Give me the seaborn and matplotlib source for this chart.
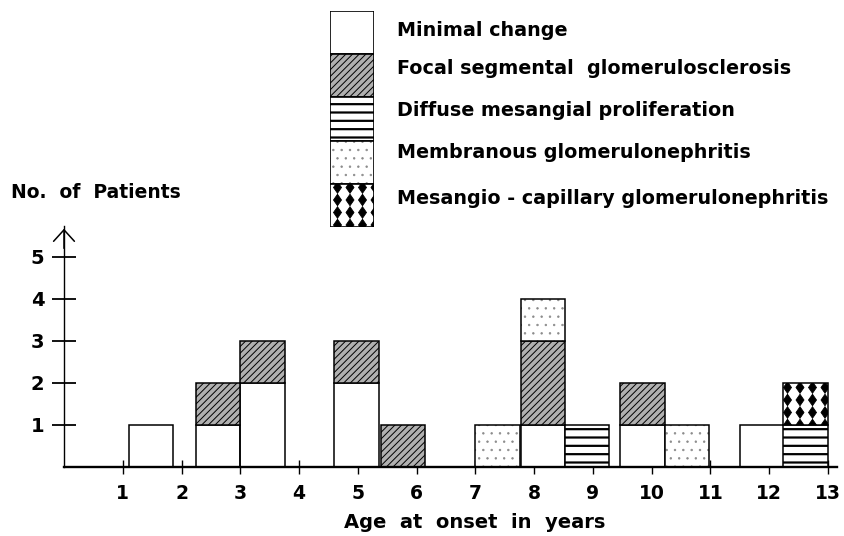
import numpy as np
import matplotlib
matplotlib.use("Agg")
import matplotlib.pyplot as plt
import matplotlib.hatch as mhatch
from matplotlib.path import Path
import seaborn as sns

# ---------------- data ----------------
age_left = [1.1, 2.24, 3.0, 4.6, 5.39, 7.0, 7.77, 8.52, 9.46, 10.22, 11.5, 12.24]
bar_width_years = 0.76
minimal_change = [1, 1, 2, 2, 0, 0, 1, 0, 1, 0, 1, 0]
focal_segmental = [0, 1, 1, 1, 1, 0, 2, 0, 1, 0, 0, 0]
diffuse_mesangial = [0, 0, 0, 0, 0, 0, 0, 1, 0, 0, 0, 1]
membranous = [0, 0, 0, 0, 0, 1, 1, 0, 0, 1, 0, 0]
mesangio_capillary = [0, 0, 0, 0, 0, 0, 0, 0, 0, 0, 0, 1]
categories = [
    "Minimal change",
    "Focal segmental  glomerulosclerosis",
    "Diffuse mesangial proliferation",
    "Membranous glomerulonephritis",
    "Mesangio - capillary glomerulonephritis",
]
x_ticks = list(range(1, 14))
y_ticks = [1, 2, 3, 4, 5]
x_label = "Age  at  onset  in  years"
y_label = "No.  of  Patients"


# ---------------- custom diamond hatch (replaces '*') ----------------
class DiamondHatch(mhatch.HatchPatternBase):
    def __init__(self, hatch, density):
        self.num_rows = hatch.count('*') * 8
        n = self.num_rows
        self.num_vertices = (n + 1) ** 2 * 5 if n else 0

    def set_vertices_and_codes(self, vertices, codes):
        n = self.num_rows
        step = 1.0 / n
        hw, hh = 0.32 * step, 0.46 * step
        shape = np.array([[0, -hh], [hw, 0], [0, hh], [-hw, 0], [0, -hh]])
        sc = np.array([Path.MOVETO, Path.LINETO, Path.LINETO, Path.LINETO,
                       Path.CLOSEPOLY], dtype=Path.code_type)
        vp, cp = [], []
        for r in range(n + 1):
            for c in range(n + 1):
                vp.append(shape + [c * step, r * step])
                cp.append(sc)
        vertices[:] = np.concatenate(vp)
        codes[:] = np.concatenate(cp)


try:
    idx = mhatch._hatch_types.index(mhatch.Stars)
    mhatch._hatch_types[idx] = DiamondHatch
except Exception:
    pass

# ---------------- style ----------------
sns.set_theme(style="white")
plt.rcParams["font.family"] = ["DejaVu Sans"]
plt.rcParams["font.weight"] = "bold"
plt.rcParams["hatch.linewidth"] = 0.7

styles = [
    dict(face="white", hatch=None, hc="black", hlw=0.7),
    dict(face="#b0b0b0", hatch="/////", hc="black", hlw=0.7),
    dict(face="white", hatch="--", hc="black", hlw=1.6),
    dict(face="white", hatch="..", hc="#8a8a8a", hlw=0.5),
    dict(face="white", hatch="*", hc="black", hlw=0.6),
]
series = [minimal_change, focal_segmental, diffuse_mesangial, membranous,
          mesangio_capillary]

W, H = 845, 536
fig = plt.figure(figsize=(W / 100, H / 100), dpi=100)
fig.patch.set_facecolor("white")


def fx(px):
    return px / W


def fy(py):
    return 1 - py / H


def draw_layer(ax, x, h, b, st, width, lw=1.1):
    keep = [i for i in range(len(h)) if h[i] > 0]
    if not keep:
        return
    xs = [x[i] for i in keep]
    hs = [h[i] for i in keep]
    bs = [b[i] for i in keep]
    bars = ax.bar(xs, hs, width=width, bottom=bs, align="edge",
                  color=st["face"], edgecolor=st["hc"], linewidth=0,
                  hatch=st["hatch"])
    for p in bars:
        if hasattr(p, "set_hatch_linewidth"):
            p.set_hatch_linewidth(st["hlw"])
    ax.bar(xs, hs, width=width, bottom=bs, align="edge", fill=False,
           edgecolor="black", linewidth=lw)


# ---------------- main axes ----------------
x_max, y_max = 13.15, 5.74
ax = fig.add_axes([fx(64), 69 / H, 58.77 * x_max / W, 42.0 * y_max / H])
ax.set_facecolor("white")
bottom = np.zeros(len(age_left))
for vals, st in zip(series, styles):
    draw_layer(ax, age_left, vals, list(bottom), st, bar_width_years)
    bottom = bottom + np.array(vals)

ax.set_xlim(0, x_max)
ax.set_ylim(0, y_max)
sns.despine(ax=ax)
ax.spines["left"].set_linewidth(1.0)
ax.spines["bottom"].set_linewidth(1.7)
ax.spines["left"].set_color("black")
ax.spines["bottom"].set_color("black")
ax.set_xticks(x_ticks)
ax.set_yticks(y_ticks)
ax.tick_params(axis="y", left=True, direction="inout", length=17, width=1.3,
               pad=5.5, labelsize=14, colors="black")
ax.tick_params(axis="x", bottom=True, direction="inout", length=10, width=1.0,
               pad=7.5, labelsize=13.5, colors="black")
for lab in ax.get_xticklabels() + ax.get_yticklabels():
    lab.set_fontweight("bold")
ax.annotate("", xy=(0, y_max), xytext=(0, y_max - 0.6),
            arrowprops=dict(arrowstyle="->,head_length=0.55,head_width=0.5",
                            lw=1.1, color="black", mutation_scale=15),
            annotation_clip=False)

fig.text(fx(475), fy(522), x_label, ha="center", va="center",
         fontsize=14, fontweight="bold", color="black")
fig.text(fx(11), fy(193), y_label, ha="left", va="center",
         fontsize=13.5, fontweight="bold", color="black")

# ---------------- legend ----------------
lax = fig.add_axes([fx(330), fy(227), fx(374) - fx(330), (227 - 11) / H])
lax.set_xlim(0, 1)
lax.set_ylim(0, len(categories))
lax.axis("off")
n = len(categories)
for k, st in enumerate(styles):
    draw_layer(lax, [0], [1], [n - 1 - k], st, 1.0, lw=1.2)
label_y = [30, 68, 110, 153, 198]
for lab, yy in zip(categories, label_y):
    fig.text(fx(397), fy(yy), lab, ha="left", va="center",
             fontsize=13.8, fontweight="bold", color="black")

fig.savefig("out.png", dpi=100, facecolor="white")
